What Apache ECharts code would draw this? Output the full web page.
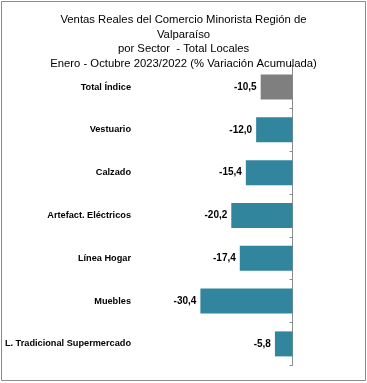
<!DOCTYPE html>
<html><head><meta charset="utf-8">
<script src="https://cdn.jsdelivr.net/npm/echarts@6/dist/echarts.min.js"></script>
<style>html,body{margin:0;padding:0;background:#fff}#c{width:367px;height:383px}</style>
</head><body><div id="c"></div>
<script>
var categories = ["Total Índice","Vestuario","Calzado","Artefact. Eléctricos","Línea Hogar","Muebles","L. Tradicional Supermercado"];
var values = [-10.5,-12.0,-15.4,-20.2,-17.4,-30.4,-5.8];
var titleLines = ["Ventas Reales del Comercio Minorista Región de","Valparaíso","por Sector  - Total Locales","Enero - Octubre 2023/2022 (% Variación Acumulada)"];
var teal = "#31859C", gray = "#7F7F7F";
var FONT = "Liberation Sans";
var chart = echarts.init(document.getElementById('c'), null, {renderer:'canvas'});
chart.setOption({
  animation:false,
  title:{text:titleLines.join("\n"), left:'center', top:8,
    textStyle:{fontFamily:FONT, fontSize:11.3, fontWeight:'normal', color:'#000', lineHeight:14.5}},
  graphic:[{type:'rect', shape:{x:1.5,y:1.5,width:364,height:379}, style:{fill:'none',stroke:'#8c8c8c',lineWidth:1}, silent:true}],
  grid:{left:141, right:74.5, top:65.6, bottom:17.7, containLabel:false, outerBoundsMode:'none'},
  xAxis:{type:'value', min:-50, max:0, show:false},
  yAxis:[
    {type:'category', inverse:true, data:categories, position:'left',
     axisLine:{show:false}, axisTick:{show:false},
     axisLabel:{fontFamily:FONT, fontSize:9.2, fontWeight:'bold', color:'#000', margin:10}},
    {type:'category', inverse:true, data:categories, position:'right',
     axisLine:{show:true, onZero:false, lineStyle:{color:'#8c8c8c', width:1}},
     axisTick:{show:true, inside:true, length:3, lineStyle:{color:'#8c8c8c'}},
     axisLabel:{show:false}}
  ],
  series:[{type:'bar', yAxisIndex:0, barWidth:25,
    data: values.map(function(v,i){return {value:v, itemStyle:{color: i===0?gray:teal}};}),
    label:{show:true, position:'left', distance:4, fontFamily:FONT, fontSize:10, fontWeight:'bold', color:'#000',
      formatter:function(p){return p.value.toFixed(1).replace('.',',');}}
  }]
});
</script></body></html>
